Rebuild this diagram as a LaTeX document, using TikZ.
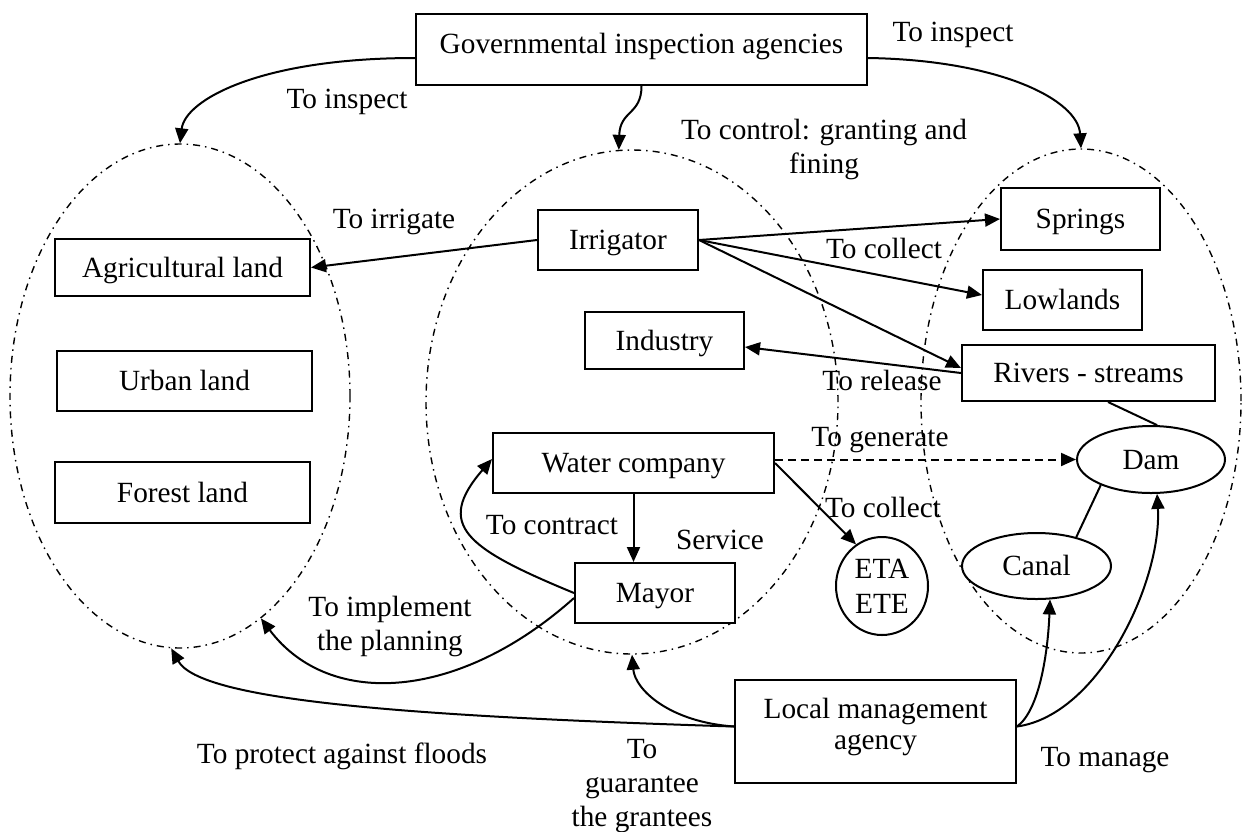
\documentclass[tikz,border=0pt]{standalone}
\usepackage{fontspec}
\setmainfont{Liberation Serif}
\usetikzlibrary{arrows.meta,shapes.geometric}
\begin{document}
\begin{tikzpicture}[x=1pt,y=-1pt,
  every node/.style={font=\fontsize{29.3pt}{34pt}\selectfont},
  box/.style={draw, line width=2pt, rectangle, inner sep=0pt, fill=white},
  onel/.style={text height=19.4pt, text depth=0pt},
  oval/.style={draw, line width=2pt, ellipse, inner sep=0pt, fill=white},
  zone/.style={draw, ellipse, line width=1.4pt, dash pattern=on 7pt off 5pt on 1.5pt off 5pt, inner sep=0pt},
  arr/.style={line width=2pt, -{Triangle[length=15pt,width=13pt]}},
  link/.style={line width=2pt},
  lab/.style={inner sep=0pt, align=center}]
\useasboundingbox (0,0) rectangle (1242,831);

% zones
\node[zone, minimum width=340pt, minimum height=504pt] (lz) at (180,396) {};
\node[zone, minimum width=412pt, minimum height=504pt] (mz) at (632,402) {};
\node[zone, minimum width=320pt, minimum height=504pt] (rz) at (1081,401) {};

% boxes
\node[box, onel, text depth=12.4pt, minimum width=451pt, minimum height=71pt] (gov) at (641.5,49.5) {Governmental inspection agencies};
\node[box,onel,minimum width=255pt,minimum height=57pt] (agri) at (182.5,267.5) {Agricultural land};
\node[box,onel,minimum width=255pt,minimum height=60pt] (urban) at (184.5,381) {Urban land};
\node[box,onel,minimum width=255pt,minimum height=61pt] (forest) at (182.5,492.5) {Forest land};
\node[box,onel,minimum width=160pt,minimum height=60pt] (irr) at (618,240) {Irrigator};
\node[box,onel,minimum width=159pt,minimum height=57pt] (ind) at (664.5,340.5) {Industry};
\node[box,onel,minimum width=159pt,minimum height=62pt] (spr) at (1080.5,219) {Springs};
\node[box,onel,minimum width=159pt,minimum height=60pt] (low) at (1062.5,300) {Lowlands};
\node[box,onel,minimum width=253pt,minimum height=56pt] (riv) at (1088.5,373) {Rivers - streams};
\node[box,onel,minimum width=281pt,minimum height=60pt] (wat) at (633.5,463) {Water company};
\node[box,onel,minimum width=160pt,minimum height=60pt] (may) at (655,593) {Mayor};
\node[box,minimum width=281pt,minimum height=103pt,
  label={[lab,font=\fontsize{29.3pt}{31pt}\selectfont,yshift=4.5pt]center:Local management\\agency}] (lma) at (875.5,731.5) {};
\node[oval,align=center,minimum width=92pt,minimum height=98pt,font=\fontsize{29.3pt}{35pt}\selectfont] (eta) at (882,586) {ETA\\ETE};
\node[oval,onel,minimum width=149pt,minimum height=66pt] (can) at (1036.5,566) {Canal};
\node[oval,onel,minimum width=148pt,minimum height=67pt] (dam) at (1151,459.5) {Dam};

% labels
\node[lab,anchor=base] (l1) at (347,108) {To inspect};
\node[lab,anchor=base] (l2) at (953,41) {To inspect};
\node[lab] (l3) at (824,149) {To control: granting and\\fining};
\node[lab,anchor=base] (l4) at (394,228) {To irrigate};
\node[lab,anchor=base] (l5) at (884,258) {To collect};
\node[lab,anchor=base] (l6) at (882,390) {To release};
\node[lab,anchor=base] (l7) at (880,446) {To generate};
\node[lab,anchor=base] (l8) at (883,517) {To collect};
\node[lab,anchor=base] (l9) at (552,534) {To contract};
\node[lab,anchor=base] (l10) at (720,549) {Service};
\node[lab] (l11) at (390,626) {To implement\\the planning};
\node[lab,anchor=base] (l12) at (342,763) {To protect against floods};
\node[lab] (l13) at (642,786) {To\\guarantee\\the grantees};
\node[lab,anchor=base] (l14) at (1105,766) {To manage};

% connectors
\draw[arr] ([yshift=-8.5pt]gov.west) .. controls (260,58) and (185,100) .. (lz.north);
\draw[arr] (gov.south) .. controls (641.5,115) and (620,110) .. (mz.93);
\draw[arr] ([yshift=-8.5pt]gov.east) .. controls (1000,60) and (1078,100) .. (rz.north);
\draw[arr] (irr.west) -- (agri.east);
\draw[arr] (irr.east) -- (spr.west);
\draw[arr] (irr.east) -- ([yshift=5pt]low.west);
\draw[arr] (irr.east) -- ([yshift=5pt]riv.west);
\draw[arr] (riv.west) -- ([yshift=-6.5pt]ind.east);
\draw[arr] (wat.south) -- (wat.south |- may.north);
\draw[arr] (may.west) .. controls (465,548) and (435,525) .. ([yshift=4pt]wat.west);
\draw[arr] ([yshift=-5pt]may.west) .. controls (460,700) and (330,710) .. (lz.-70);
\draw[arr] ([yshift=5pt]lma.west) .. controls (400,716) and (200,700) .. (lz.268);
\draw[arr] ([yshift=5pt]lma.west) .. controls (670,722) and (635,690) .. (mz.south);
\draw[arr, dash pattern=on 8pt off 5pt] (wat.east |- dam.west) -- (dam.west);
\draw[arr] (wat.east) -- (eta.122);
\draw[link] ([xshift=19.5pt]riv.south) -- (dam.80);
\draw[link] (can.36) -- (dam.207);
\draw[arr] ([yshift=5pt]lma.east) .. controls (1040,710) and (1048,650) .. (can.-68);
\draw[arr] ([yshift=5pt]lma.east) .. controls (1100,715) and (1162,580) .. (dam.-80);
\end{tikzpicture}
\end{document}
